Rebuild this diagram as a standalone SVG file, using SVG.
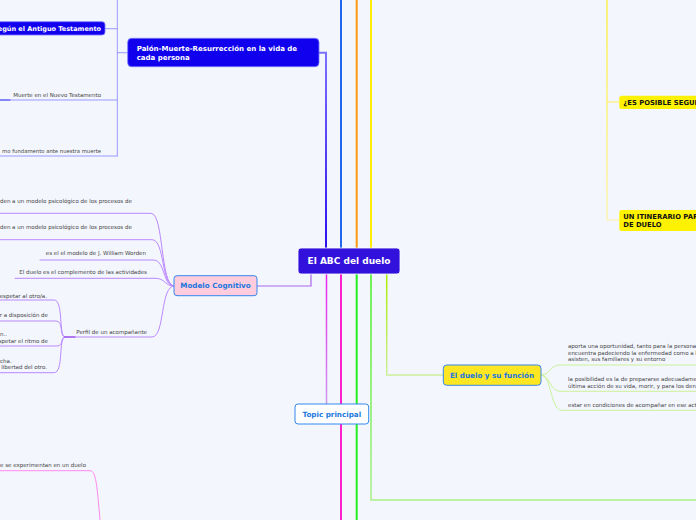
<svg xmlns="http://www.w3.org/2000/svg" width="696" height="520" viewBox="0 0 696 520">
<defs>
<linearGradient id="gPalon" x1="0" y1="53" x2="0" y2="248" gradientUnits="userSpaceOnUse"><stop offset="0" stop-color="#7a70ff"/><stop offset="1" stop-color="#2a10ee"/></linearGradient>
<linearGradient id="gTopic" x1="0" y1="274" x2="0" y2="404" gradientUnits="userSpaceOnUse"><stop offset="0" stop-color="#ee22ee"/><stop offset="1" stop-color="#cc99ee"/></linearGradient>
<linearGradient id="gG1" x1="0" y1="274" x2="0" y2="500" gradientUnits="userSpaceOnUse"><stop offset="0" stop-color="#44ee22"/><stop offset="1" stop-color="#aaf088"/></linearGradient>
<linearGradient id="gG2" x1="0" y1="274" x2="0" y2="375" gradientUnits="userSpaceOnUse"><stop offset="0" stop-color="#aaee00"/><stop offset="1" stop-color="#ccee99"/></linearGradient>
<linearGradient id="gY" x1="0" y1="0" x2="0" y2="220" gradientUnits="userSpaceOnUse"><stop offset="0" stop-color="#ffee22"/><stop offset="1" stop-color="#fff3a0"/></linearGradient>
</defs>
<style>
.sm{font-family:"DejaVu Sans",Verdana,sans-serif;font-size:5.5px;fill:#444;}
.nb{font-family:"DejaVu Sans",Verdana,sans-serif;font-weight:bold;font-size:7px;fill:#fff;}
.nbl{font-family:"DejaVu Sans",Verdana,sans-serif;font-weight:bold;font-size:7.2px;fill:#1a77dd;}
.ny{font-family:"DejaVu Sans",Verdana,sans-serif;font-weight:bold;font-size:6.8px;fill:#111;}
.c{fill:none;stroke-linecap:round;}
.pu{stroke:#bb88ff;stroke-width:1;}
.lg{stroke:#ccf29a;stroke-width:1;}
</style>
<rect width="696" height="520" fill="#f3f6fd"/>
<g id="connectors">
<path class="c" d="M319,52.7 H326 V248" stroke="url(#gPalon)" stroke-width="2"/>
<path class="c" d="M341,0 V248" stroke="#2266ee" stroke-width="2"/>
<path class="c" d="M356.7,0 V248" stroke="#ff9911" stroke-width="2"/>
<path class="c" d="M371,0 V248" stroke="#ffee00" stroke-width="2"/>
<path class="c" d="M326.5,274 V404" stroke="url(#gTopic)" stroke-width="1.5"/>
<path class="c" d="M341,274 V520" stroke="#ff22cc" stroke-width="2"/>
<path class="c" d="M356.7,274 V520" stroke="#22ee22" stroke-width="2"/>
<path class="c" d="M371,274 V500 H696" stroke="url(#gG1)" stroke-width="1.5"/>
<path class="c" d="M386.7,274 V375 H443" stroke="url(#gG2)" stroke-width="1.5"/>
<path class="c" d="M311,274 V286 H257" stroke="#aa66ee" stroke-width="1.2"/>
<path class="c" d="M127.7,52.7 H117.3 M117.3,0 V156 M117.3,28.7 H105 M117.3,100 H0 M117.3,156 H0" stroke="#9999ff" stroke-width="1"/>
<path class="c" d="M0,100 H10" stroke="#4444ee" stroke-width="1"/>
<path class="c" d="M607,0 V220 M607,102 H619 M607,220 H619" stroke="url(#gY)" stroke-width="1.2"/>
<path class="c pu" d="M174,286 C160,286 164,213.3 151,213.3 H0"/>
<path class="c pu" d="M174,286 C161,286 165,239.7 152,239.7 H0"/>
<path class="c pu" d="M174,286 C162,286 166,260 153,260 H40"/>
<path class="c pu" d="M174,286 C164,286 166,278.3 155,278.3 H15"/>
<path class="c pu" d="M174,286 C160,286 165,337 152,337 H65"/>
<path class="c pu" d="M65,337 C58,337 64,300 54,300 H0"/>
<path class="c pu" d="M65,337 C59,337 64,321 56,321 H0"/>
<path class="c pu" d="M65,337 C60,337 64,346 57,346 H0"/>
<path class="c pu" d="M65,337 C58,337 64,372.7 54,372.7 H0"/>
<path class="c" d="M65,337 H75" stroke="#8833dd" stroke-width="1.2"/>
<path class="c" d="M0,470.7 H90 C96,470.7 97,485 100,520" stroke="#ff88ee" stroke-width="1"/>
<path class="c lg" d="M541,375 C550,375 550,365 560,365 H696"/>
<path class="c lg" d="M541,375 C550,375 550,391.3 560,391.3 H696"/>
<path class="c lg" d="M541,375 C552,375 550,410.3 562,410.3 H696"/>
</g>
<g id="n-central">
<rect x="298" y="248" width="102" height="26" rx="3" fill="#3311dd" stroke="#ffffff" stroke-width="0.8"/>
<text x="349" y="264.3" text-anchor="middle" style="font-family:'DejaVu Sans',Verdana,sans-serif;font-weight:bold;font-size:9px;fill:#fff;">El ABC del duelo</text>
</g>
<g id="n-palon">
<rect x="127.7" y="38.3" width="191.3" height="28.4" rx="4" fill="#1100ee" stroke="#7777ff" stroke-width="0.8"/>
<text class="nb" x="136.7" y="50.8">Palón-Muerte-Resurrección en la vida de</text>
<text class="nb" x="136.7" y="59.8">cada persona</text>
</g>
<g id="n-antiguo">
<rect x="-6" y="21.7" width="111" height="13.3" rx="3" fill="#1100ee" stroke="#7777ff" stroke-width="0.8"/>
<text class="nb" x="101" y="31" text-anchor="end" style="font-size:6.5px">egún el Antiguo Testamento</text>
</g>
<g id="n-nuevo"><text class="sm" x="101" y="97" text-anchor="end">Muerte en el Nuevo Testamento</text></g>
<g id="n-fundamento"><text class="sm" x="101" y="153" text-anchor="end" style="font-size:5.3px">mo fundamento ante nuestra muerte</text></g>
<g id="n-modelo">
<rect x="174" y="275.7" width="83" height="20" rx="3" fill="#ffccdd" stroke="#3388ee" stroke-width="1"/>
<text class="nbl" x="215.5" y="288.4" text-anchor="middle">Modelo Cognitivo</text>
</g>
<g id="n-m1"><text class="sm" x="0" y="202.8">den a un modelo psicológico de los procesos de</text></g>
<g id="n-m2"><text class="sm" x="0" y="229.2">den a un modelo psicológico de los procesos de</text></g>
<g id="n-m3"><text class="sm" x="146" y="255.2" text-anchor="end">es el el modelo de J. William Worden</text></g>
<g id="n-m4"><text class="sm" x="147" y="274.2" text-anchor="end">El duelo es el complemento de las actividades</text></g>
<g id="n-perfil"><text class="sm" x="147" y="334.2" text-anchor="end">Perfil de un acompañante</text></g>
<g id="n-p1"><text class="sm" x="47" y="298.2" text-anchor="end">espetar al otro/a.</text></g>
<g id="n-p2"><text class="sm" x="48" y="317.2" text-anchor="end">r a disposición de</text></g>
<g id="n-p3"><text class="sm" x="0" y="336">n..</text><text class="sm" x="48" y="342.7" text-anchor="end">espetar el ritmo de</text></g>
<g id="n-p4"><text class="sm" x="0" y="362.7">cha.</text><text class="sm" x="47" y="368.7" text-anchor="end">libertad del otro.</text></g>
<g id="n-experimentan"><text class="sm" x="86" y="467.2" text-anchor="end">e se experimentan en un duelo</text></g>
<g id="n-topic">
<rect x="295" y="404" width="73.7" height="20" rx="3" fill="#ffffff" stroke="#3388ee" stroke-width="1"/>
<text class="nbl" x="331.8" y="416.5" text-anchor="middle">Topic principal</text>
</g>
<g id="n-funcion">
<rect x="443.3" y="365" width="97.7" height="20.3" rx="3.5" fill="#ffe622" stroke="#3388ee" stroke-width="1"/>
<text class="nbl" x="492" y="377.8" text-anchor="middle">El duelo y su función</text>
</g>
<g id="n-f1">
<text class="sm" x="568" y="347.7">aporta una oportunidad, tanto para la persona</text>
<text class="sm" x="568" y="354.5">encuentra padeciendo la enfermedad como a l</text>
<text class="sm" x="568" y="361.2">asisten, sus familiares y su entorno</text>
</g>
<g id="n-f2">
<text class="sm" x="568" y="381.2">la posibilidad es la de prepararse adecuadame</text>
<text class="sm" x="568" y="388.2">última acción de su vida, morir, y para los den</text>
</g>
<g id="n-f3"><text class="sm" x="568" y="407.2">estar en condiciones de acompañar en ese act</text></g>
<g id="n-posible">
<rect x="619.3" y="95.7" width="90" height="13.3" rx="2.5" fill="#fff200"/>
<text class="ny" x="623.3" y="104.8">¿ES POSIBLE SEGUIR</text>
</g>
<g id="n-itinerario">
<rect x="619.3" y="210" width="90" height="21" rx="2.5" fill="#fff200"/>
<text class="ny" x="623.3" y="219">UN ITINERARIO PARA</text>
<text class="ny" x="623.3" y="227">DE DUELO</text>
</g>
</svg>
